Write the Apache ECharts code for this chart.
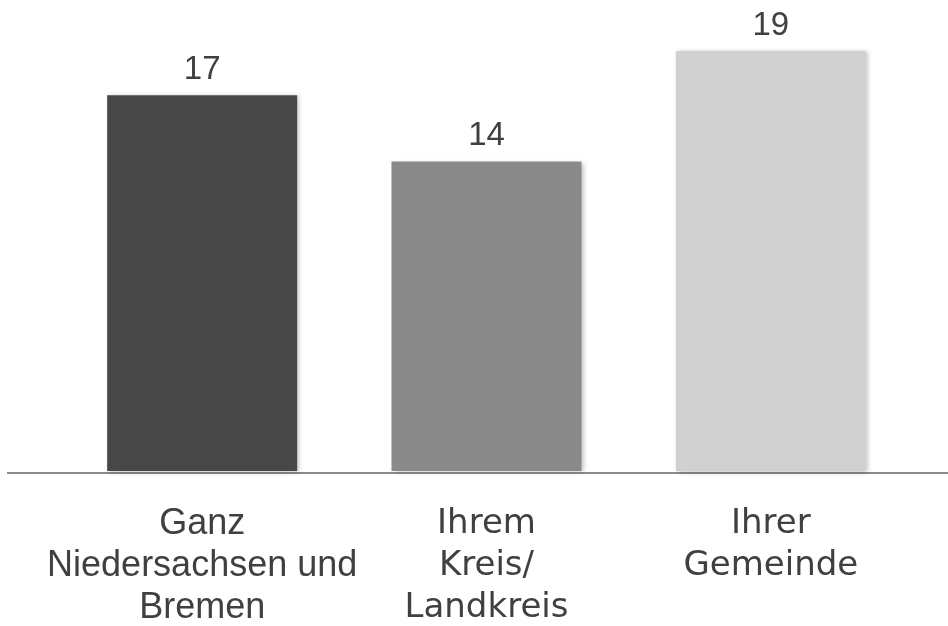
<!DOCTYPE html>
<html>
<head>
<meta charset="utf-8">
<script src="https://cdn.jsdelivr.net/npm/echarts@6/dist/echarts.min.js"></script>
<style>
  html, body { margin: 0; padding: 0; background: #fff; }
  #chart { width: 948px; height: 626px; }
</style>
</head>
<body>
<div id="chart"></div>
<script>
const categories = ['Ganz\nNiedersachsen und\nBremen', 'Ihrem\nKreis/\nLandkreis', 'Ihrer\nGemeinde'];
const values = [17, 14, 19];
const barColors = ['#474747', '#8a8a8a', '#d0d0d0'];

const chart = echarts.init(document.getElementById('chart'));

chart.setOption({
  animation: false,
  grid: {
    left: 60,
    right: 35,
    top: 29,
    bottom: 154
  },
  xAxis: {
    type: 'category',
    data: categories,
    axisLine: { show: false },
    axisTick: { show: false },
    axisLabel: {
      margin: 32,
      interval: 0,
      formatter: (value, index) => {
        const style = index === 0 ? 'a' : 'b';
        return value.split('\n').map(line => `{${style}|${line}}`).join('\n');
      },
      rich: {
        a: {
          fontFamily: '"Liberation Sans", Arial, sans-serif',
          fontSize: 36,
          lineHeight: 42,
          color: '#404040'
        },
        b: {
          fontFamily: '"DejaVu Sans", sans-serif',
          fontSize: 34,
          lineHeight: 42,
          color: '#404040'
        }
      }
    }
  },
  yAxis: {
    type: 'value',
    min: 0,
    max: 20,
    show: false,
    splitLine: { show: false }
  },
  series: [{
    type: 'bar',
    barWidth: 190,
    data: values.map((v, i) => ({
      value: v,
      itemStyle: { color: barColors[i] }
    })),
    itemStyle: {
      shadowBlur: 5,
      shadowColor: 'rgba(0, 0, 0, 0.25)',
      shadowOffsetX: 2,
      shadowOffsetY: 1
    },
    label: {
      show: true,
      position: 'top',
      distance: 9,
      fontFamily: '"Liberation Sans", Arial, sans-serif',
      fontSize: 33,
      color: '#404040'
    }
  }],
  graphic: [{
    type: 'line',
    shape: { x1: 7, y1: 473, x2: 948, y2: 473 },
    style: { stroke: '#8c8c8c', lineWidth: 2 }
  }]
});

window.addEventListener('resize', () => chart.resize());
</script>
</body>
</html>
